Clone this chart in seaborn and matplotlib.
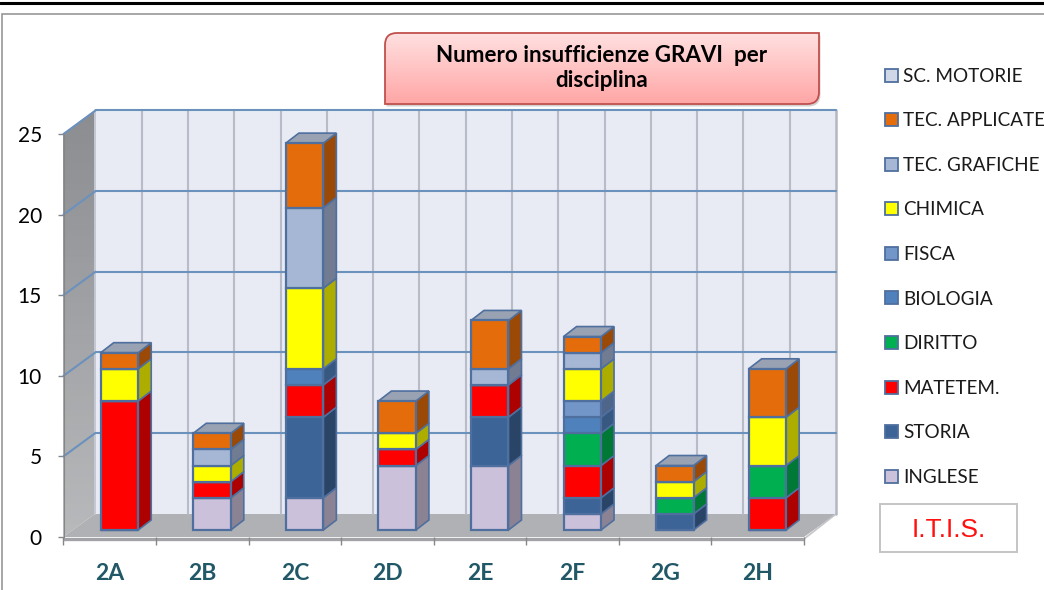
#!/usr/bin/env python3
"""Numero insufficienze GRAVI per disciplina - pseudo 3D stacked columns"""

import numpy as np
import matplotlib
matplotlib.use("Agg")
import matplotlib.pyplot as plt
from matplotlib.colors import LinearSegmentedColormap, to_rgb
from matplotlib.patches import Patch, Polygon, Rectangle, PathPatch
from matplotlib.path import Path
import seaborn as sns

# Data
classes = ["2A", "2B", "2C", "2D", "2E", "2F", "2G", "2H"]
inglese = [0, 2, 2, 4, 4, 1, 0, 0]
storia = [0, 0, 5, 0, 3, 1, 1, 0]
matematica = [8, 1, 2, 1, 2, 2, 0, 2]
diritto = [0, 0, 0, 0, 0, 2, 1, 2]
biologia = [0, 0, 1, 0, 0, 1, 0, 0]
fisica = [0, 0, 0, 0, 0, 1, 0, 0]
chimica = [2, 1, 5, 1, 0, 2, 1, 3]
tec_grafiche = [0, 1, 5, 0, 1, 1, 0, 0]
tec_applicate = [1, 1, 4, 2, 3, 1, 1, 3]
sc_motorie = [0, 0, 0, 0, 0, 0, 0, 0]

series_names = ["INGLESE", "STORIA", "MATETEM.", "DIRITTO", "BIOLOGIA", "FISCA",
                "CHIMICA", "TEC. GRAFICHE", "TEC. APPLICATE", "SC. MOTORIE"]
series_values = [inglese, storia, matematica, diritto, biologia, fisica,
                 chimica, tec_grafiche, tec_applicate, sc_motorie]
series_colors = ["#ccc1da", "#3c6497", "#ff0000", "#00b050", "#4f81bd", "#7396c9",
                 "#ffff00", "#a6b7d6", "#e46c0a", "#d0d8e8"]

sns.set_style("white")
plt.rcParams["font.family"] = ["Lato", "DejaVu Sans"]

W, H = 1044, 590
EDGE = "#4f6f9f"
PX = (804 - 63.5) / 8      # pixels per category
PY = (537 - 134) / 25      # pixels per unit


def darker(color, f=0.68):
    return tuple(c * f for c in to_rgb(color))


fig = plt.figure(figsize=(W / 100, H / 100), dpi=100, facecolor="white")

# pixel space layer for walls, frame and boxes
bg = fig.add_axes([0, 0, 1, 1], zorder=0)
bg.axis("off")

cm_wall = LinearSegmentedColormap.from_list("wall", ["#8b8d91", "#b8b9bb"])
wall_img = bg.imshow(np.linspace(0, 1, 64).reshape(-1, 1), cmap=cm_wall, aspect="auto",
                     extent=(63, 95, 537, 110), zorder=1)
left_wall = Polygon([(63, 134), (95, 110), (95, 514), (63, 537)], closed=True,
                    facecolor="none", edgecolor="none", zorder=1)
bg.add_patch(left_wall)
wall_img.set_clip_path(left_wall)
bg.add_patch(Rectangle((95, 110), 741, 404, facecolor="#e8ebf4", edgecolor="none", zorder=1))
bg.add_patch(Polygon([(63, 537), (95, 514), (836, 514), (804, 537)], closed=True,
                     facecolor="#b0b1b4", edgecolor="none", zorder=2))
bg.plot([63, 804], [539, 539], color="#a2a3a6", lw=2.4, zorder=2, solid_capstyle="butt")
bg.plot([804, 836], [539, 514], color="#c4c5c8", lw=1.2, zorder=2)
bg.plot([836, 836], [110, 514], color="#b4b7bf", lw=1.8, zorder=2)
bg.plot([95, 95], [110, 514], color="#c4c8d2", lw=1.4, zorder=2)

# frame and top rule
bg.plot([2, 2, W], [H, 14, 14], color="#8e8e8e", lw=1.1, zorder=1, solid_joinstyle="miter")
bg.plot([0, W], [2.5, 2.5], color="black", lw=2.2, zorder=1)

# title box, rounded on two diagonal corners
x0, x1, y0, y1, r = 385, 819, 33, 104, 12
box_path = Path(
    [(x0 + r, y0), (x1, y0), (x1, y1 - r), (x1, y1), (x1 - r, y1), (x0, y1), (x0, y0 + r),
     (x0, y0), (x0 + r, y0), (x0 + r, y0)],
    [Path.MOVETO, Path.LINETO, Path.LINETO, Path.CURVE3, Path.CURVE3, Path.LINETO, Path.LINETO,
     Path.CURVE3, Path.CURVE3, Path.CLOSEPOLY])
shadow = PathPatch(box_path.transformed(matplotlib.transforms.Affine2D().translate(1.5, 2.5)),
                   facecolor="#808080", edgecolor="none", alpha=0.35, zorder=5)
bg.add_patch(shadow)
cm_title = LinearSegmentedColormap.from_list("title", ["#ffe0e0", "#ffa6a6"])
title_img = bg.imshow(np.linspace(0, 1, 64).reshape(-1, 1), cmap=cm_title, aspect="auto",
                      extent=(x0, x1, y1, y0), zorder=6)
box = PathPatch(box_path, facecolor="none", edgecolor="#c0504d", lw=1.3, zorder=7)
bg.add_patch(box)
title_img.set_clip_path(box)
bg.text(602, 55.5, "Numero insufficienze GRAVI  per", ha="center", va="center",
        fontsize=16.1, fontweight="bold", color="black", zorder=8)
bg.text(602, 80.5, "disciplina", ha="center", va="center",
        fontsize=16.1, fontweight="bold", color="black", zorder=8)

# I.T.I.S. box
bg.add_patch(Rectangle((880, 504), 137, 47.5, facecolor="white", edgecolor="#c4c4c4", lw=1.4, zorder=3))
bg.text(948.5, 530, "I.T.I.S.", ha="center", va="center", fontsize=19, color="#ff1010",
        family="Liberation Sans", zorder=4)

bg.set_xlim(0, W)
bg.set_ylim(H, 0)

# chart axes sit on the front plane of the 3D box
ax = fig.add_axes([63.5 / W, (H - 537) / H, (804 - 63.5) / W, (537 - 134) / H], zorder=1)
ax.patch.set_alpha(0)

wall_dx = 32 / PX
wall_dy = 23.5 / PY
bar_dx = 13 / PX
bar_dy = 10 / PY
bar_shift = 9.7 / PX
bar_lift = 7 / PY
bar_width = 37.5 / PX

yticks = [0, 5, 10, 15, 20, 25]
n = len(classes)
x_edges = np.arange(n + 1) - 0.5

# gridlines on the back wall and the left wall
for v in yticks[1:]:
    ax.plot([-0.5 + wall_dx, n - 0.5 + wall_dx], [v + wall_dy] * 2, color="#6b91bd", lw=1.5,
            clip_on=False, zorder=1.6)
    ax.plot([-0.5, -0.5 + wall_dx], [v, v + wall_dy], color="#6b91bd", lw=1.5,
            clip_on=False, zorder=1.6)
for k in np.arange(1, 2 * n) / 2:
    ax.plot([-0.5 + wall_dx + k] * 2, [wall_dy, 25 + wall_dy], color="#b8bcc6", lw=1.5,
            clip_on=False, zorder=1.5)

# stacked columns
x_pos = np.arange(n) + bar_shift
bottoms = np.zeros(n)
for name, vals, col in zip(series_names, series_values, series_colors):
    vals = np.array(vals, dtype=float)
    if vals.sum() > 0:
        sns.barplot(x=x_pos, y=vals, bottom=bottoms + bar_lift, color=col, saturation=1,
                    width=bar_width, native_scale=True, edgecolor=EDGE, linewidth=1.6,
                    errorbar=None, zorder=3, clip_on=False, ax=ax)
        for xc, b, v in zip(x_pos, bottoms + bar_lift, vals):
            if v == 0:
                continue
            xr = xc + bar_width / 2
            ax.add_patch(Polygon([(xr, b), (xr + bar_dx, b + bar_dy),
                                  (xr + bar_dx, b + v + bar_dy), (xr, b + v)], closed=True,
                                 facecolor=darker(col), edgecolor=EDGE, lw=1.2,
                                 clip_on=False, zorder=2.9))
    bottoms = bottoms + vals

# top faces of the columns
for xc, t in zip(x_pos, bottoms + bar_lift):
    xl, xr = xc - bar_width / 2, xc + bar_width / 2
    ax.add_patch(Polygon([(xl, t), (xl + bar_dx, t + bar_dy), (xr + bar_dx, t + bar_dy), (xr, t)],
                         closed=True, facecolor="#98a2b3", edgecolor=EDGE, lw=1.2,
                         clip_on=False, zorder=2.9))

ax.set_xlim(-0.5, n - 0.5)
ax.set_ylim(0, 25)
ax.set_xlabel("")
ax.set_ylabel("")
ax.set_yticks(yticks)
ax.set_xticks(x_edges, labels=[""] * (n + 1))
ax.set_xticks(np.arange(n), labels=classes, minor=True)
ax.tick_params(axis="y", left=True, length=4.5, width=1, color="#868686", labelsize=15,
               pad=11, labelcolor="black")
ax.tick_params(axis="x", which="major", bottom=True, length=6, width=1, color="#868686")
ax.tick_params(axis="x", which="minor", bottom=False, length=0, pad=19, labelsize=16.5,
               labelcolor="#215868")
for lab in ax.get_xticklabels(minor=True):
    lab.set_fontweight("bold")
sns.despine(ax=ax, top=True, right=True, bottom=True)
ax.spines["left"].set_color("#868686")

# legend
handles = [Patch(facecolor=c, edgecolor=EDGE, lw=1.3) for c in series_colors[::-1]]
ax.legend(handles, series_names[::-1], loc="upper left", bbox_to_anchor=(879 / W, 1 - 62 / H),
          bbox_transform=fig.transFigure, frameon=False, fontsize=13.6, labelspacing=1.46,
          handlelength=0.69, handleheight=0.69, handletextpad=0.3, borderaxespad=0,
          borderpad=0.3, labelcolor="#1a1a1a")

fig.savefig("out.png", dpi=100)
